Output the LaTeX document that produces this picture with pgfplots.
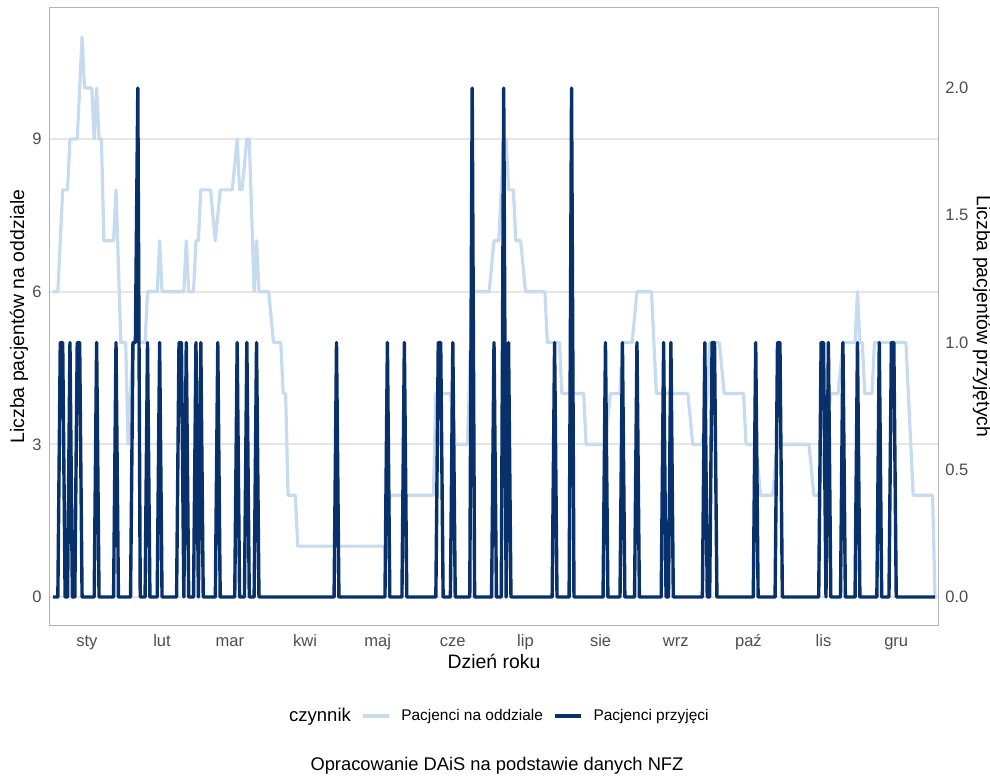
\documentclass[border=0pt]{standalone}
\usepackage{pgfplots}
\pgfplotsset{compat=1.18}
\usepackage{fontspec}
\setmainfont{Liberation Sans}
\definecolor{lightb}{HTML}{C6DBEF}
\definecolor{darkb}{HTML}{08306B}
\definecolor{ticktext}{HTML}{4D4D4D}
\definecolor{gridc}{HTML}{E6E6E6}
\definecolor{borderc}{HTML}{B3B3B3}
\begin{document}
\begin{tikzpicture}
\useasboundingbox (-25bp,-75.5bp) rectangle (470bp,312.5bp);
\begin{axis}[
  at={(0,0)}, anchor=south west,
  scale only axis, width=444bp, height=308.5bp,
  xmin=-0.24, xmax=366.24,
  ymin=-0.550, ymax=11.574,
  axis line style={draw=borderc, line width=0.5bp},
  xtick={15,46,74,105,135,166,196,227,258,288,319,349},
  xticklabels={sty,lut,mar,kwi,maj,cze,lip,sie,wrz,paź,lis,gru},
  ytick={0,3,6,9},
  major tick length=0pt,
  ymajorgrids, grid style={gridc, line width=1bp},
  tick label style={font=\fontsize{8.3}{10}\selectfont, text=ticktext},
  /pgf/number format/assume math mode=true,
  xticklabel style={anchor=base, inner sep=0pt, yshift=-10.5bp},
  yticklabel style={anchor=east, inner sep=0pt, xshift=-4bp},
  xlabel={Dzień roku},
  ylabel={Liczba pacjentów na oddziale},
  label style={font=\fontsize{9.75}{11}\selectfont},
  xlabel style={at={(axis description cs:0.5,-0.0583)}, anchor=center},
  ylabel style={at={(axis description cs:-0.035,0.5)}, anchor=center},
]
\addplot[lightb, line width=1.6bp, line join=round] coordinates {
(1,6)(3,6)(5,8)(7,8)(8,9)(11,9)(13,11)(14,10)(17,10)(18,9)(19,10)(20,9)(21,9)(22,7)(26,7)(27,8)(29,5)(31,5)(32,3)(34,5)(39,5)(40,6)(44,6)(45,7)(46,6)(55,6)(56,7)(57,6)(59,6)(60,7)(61,7)(62,8)(66,8)(68,7)(70,8)(75,8)(77,9)(78,8)(79,8)(81,9)(82,9)(84,6)(85,7)(86,6)(90,6)(92,5)(95,5)(96,4)(97,4)(98,2)(101,2)(102,1)(139,1)(140,2)(158,2)(159,4)(165,4)(167,3)(172,3)(174,6)(181,6)(183,7)(185,7)(187,9)(188,9)(189,8)(191,8)(192,7)(194,7)(196,6)(204,6)(205,5)(210,5)(211,4)(220,4)(221,3)(229,3)(231,4)(235,4)(236,5)(240,5)(242,6)(248,6)(250,4)(263,4)(265,3)(269,3)(271,4)(272,5)(276,5)(278,4)(286,4)(287,3)(291,3)(293,2)(298,2)(300,3)(313,3)(315,2)(317,2)(322,4)(325,4)(327,5)(332,5)(333,6)(334,5)(335,5)(336,4)(339,4)(340,5)(353,5)(356,2)(364,2)(365,0)
};
\end{axis}
\begin{axis}[
  at={(0,0)}, anchor=south west,
  scale only axis, width=444bp, height=308.5bp,
  xmin=-0.24, xmax=366.24,
  ymin=-0.110, ymax=2.3148,
  axis x line=none,
  axis y line*=right,
  axis line style={draw=none},
  ytick={0,0.5,1,1.5,2},
  major tick length=0pt,
  tick label style={font=\fontsize{8.3}{10}\selectfont, text=ticktext},
  /pgf/number format/assume math mode=true,
  yticklabel style={/pgf/number format/.cd, fixed, fixed zerofill, precision=1, /tikz/.cd, anchor=west, inner sep=0pt, xshift=3.5bp},
  ylabel={Liczba pacjentów przyjętych},
  label style={font=\fontsize{9.75}{11}\selectfont},
  ylabel style={at={(axis description cs:1.0495,0.5)}, anchor=center, rotate=180},
  legend style={at={(axis description cs:0.4995,-0.1475)}, anchor=center, draw=none, fill=none,
    legend columns=-1, font=\fontsize{7.75}{9}\selectfont,
    nodes={inner sep=0pt},
    /tikz/every even column/.append style={column sep=5.3bp},
    /tikz/every odd column/.append style={column sep=5.3bp}},
  legend image code/.code={\draw[#1] (0bp,0bp) -- (13bp,0bp);},
]
\addlegendimage{empty legend}
\addlegendentry{\fontsize{9.3}{11}\selectfont czynnik}
\addlegendimage{lightb, line width=1.6bp}
\addlegendentry{Pacjenci na oddziale}
\addplot[darkb, line width=1.7bp, line join=round] coordinates {
(1,0)(3,0)(4,1)(5,1)(6,0)(7,0)(8,1)(9,0)(10,0)(11,1)(12,1)(13,0)(18,0)(19,1)(20,0)(26,0)(27,1)(28,0)(33,0)(34,1)(35,1)(36,2)(37,0)(39,0)(40,1)(41,0)(44,0)(45,1)(46,0)(52,0)(53,1)(54,1)(55,0)(56,1)(57,0)(59,0)(60,1)(61,0)(62,1)(63,0)(68,0)(69,1)(70,0)(76,0)(77,1)(78,0)(80,0)(81,1)(82,0)(84,0)(85,1)(86,0)(117,0)(118,1)(119,0)(138,0)(139,1)(140,0)(145,0)(146,1)(147,0)(159,0)(160,1)(161,1)(162,0)(165,0)(166,1)(167,0)(173,0)(174,2)(175,0)(182,0)(183,1)(184,0)(186,0)(187,2)(188,0)(189,1)(190,0)(207,0)(208,1)(209,0)(214,0)(215,2)(216,0)(228,0)(229,1)(230,0)(235,0)(236,1)(237,0)(241,0)(242,1)(243,0)(252,0)(253,1)(254,0)(255,0)(256,1)(257,0)(269,0)(270,1)(271,0)(272,0)(273,1)(274,1)(275,0)(290,0)(291,1)(292,0)(299,0)(300,1)(301,1)(302,0)(317,0)(318,1)(319,1)(320,0)(321,1)(322,0)(326,0)(327,1)(328,0)(332,0)(333,1)(334,0)(341,0)(342,1)(343,0)(346,0)(347,1)(348,1)(349,0)(365,0)
};
\addlegendentry{Pacjenci przyjęci}
\end{axis}
\node[font=\fontsize{9.2}{11}\selectfont] at (223.5bp,-70.5bp) {Opracowanie DAiS na podstawie danych NFZ};
\end{tikzpicture}
\end{document}
